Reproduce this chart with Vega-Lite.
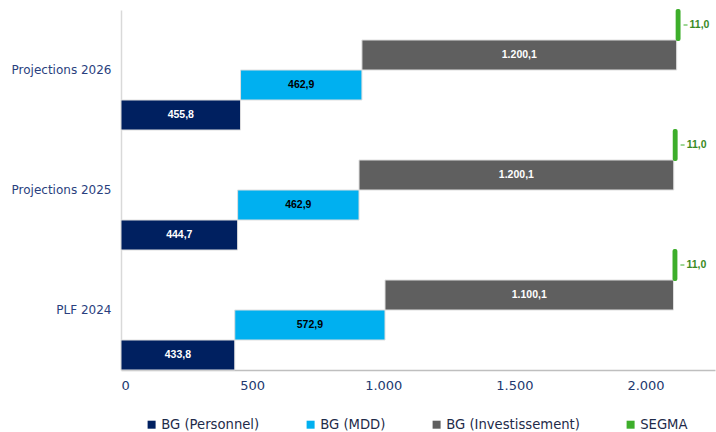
{
  "$schema": "https://vega.github.io/schema/vega-lite/v6.json",
  "autosize": {"type": "none"},
  "width": 594,
  "height": 360,
  "padding": {"left": 121, "top": 10, "right": 1, "bottom": 62},
  "background": "white",
  "config": {
    "view": {"stroke": null},
    "locale": {"number": {"decimal": ",", "thousands": ".", "grouping": [3], "currency": ["", " €"]}},
    "font": "DejaVu Sans"
  },
  "data": {
    "values": [
      {"cat": "Projections 2026", "serie": "BG (Personnel)", "value": 455.8, "start": 0, "end": 455.8},
      {"cat": "Projections 2026", "serie": "BG (MDD)", "value": 462.9, "start": 455.8, "end": 918.7},
      {"cat": "Projections 2026", "serie": "BG (Investissement)", "value": 1200.1, "start": 918.7, "end": 2118.8},
      {"cat": "Projections 2026", "serie": "SEGMA", "value": 11.0, "start": 2118.8, "end": 2129.8},
      {"cat": "Projections 2025", "serie": "BG (Personnel)", "value": 444.7, "start": 0, "end": 444.7},
      {"cat": "Projections 2025", "serie": "BG (MDD)", "value": 462.9, "start": 444.7, "end": 907.6},
      {"cat": "Projections 2025", "serie": "BG (Investissement)", "value": 1200.1, "start": 907.6, "end": 2107.7},
      {"cat": "Projections 2025", "serie": "SEGMA", "value": 11.0, "start": 2107.7, "end": 2118.7},
      {"cat": "PLF 2024", "serie": "BG (Personnel)", "value": 433.8, "start": 0, "end": 433.8},
      {"cat": "PLF 2024", "serie": "BG (MDD)", "value": 572.9, "start": 433.8, "end": 1006.7},
      {"cat": "PLF 2024", "serie": "BG (Investissement)", "value": 1100.1, "start": 1006.7, "end": 2106.8},
      {"cat": "PLF 2024", "serie": "SEGMA", "value": 11.0, "start": 2106.8, "end": 2117.8}
    ]
  },
  "encoding": {
    "y": {
      "field": "cat", "type": "nominal",
      "sort": ["Projections 2026", "Projections 2025", "PLF 2024"],
      "scale": {"paddingInner": 0, "paddingOuter": 0},
      "axis": {
        "title": null, "ticks": false, "domainColor": "#d9d9d9", "domainWidth": 1.5,
        "labelFont": "DejaVu Sans", "labelFontSize": 12, "labelColor": "#2A3F7E", "labelPadding": 10
      }
    },
    "yOffset": {
      "field": "serie", "type": "nominal",
      "sort": ["SEGMA", "BG (Investissement)", "BG (MDD)", "BG (Personnel)"],
      "scale": {"paddingInner": 0, "paddingOuter": 0}
    }
  },
  "layer": [
    {
      "transform": [{"filter": "datum.serie !== 'SEGMA'"}],
      "mark": {"type": "bar", "stroke": "#dedede", "strokeWidth": 1},
      "encoding": {
        "x": {
          "field": "start", "type": "quantitative",
          "scale": {"domain": [0, 2265], "nice": false},
          "axis": {
            "title": null, "values": [0, 500, 1000, 1500, 2000], "format": ",d",
            "ticks": false, "grid": false, "domainColor": "#bfbfbf", "domainWidth": 1.5,
            "labelFont": "DejaVu Sans", "labelFontSize": 13, "labelColor": "#22396F", "labelPadding": 9
          }
        },
        "x2": {"field": "end"},
        "color": {
          "field": "serie", "type": "nominal",
          "scale": {
            "domain": ["BG (Personnel)", "BG (MDD)", "BG (Investissement)", "SEGMA"],
            "range": ["#002060", "#00B0F0", "#5F5F5F", "#3DAE2B"]
          },
          "legend": {
            "title": null, "orient": "none", "direction": "horizontal",
            "legendX": 24, "legendY": 408,
            "symbolType": "square", "symbolSize": 64, "symbolStrokeWidth": 0,
            "labelFont": "DejaVu Sans", "labelFontSize": 13.2, "labelColor": "#1E2B4A",
            "labelOffset": 3, "columnPadding": 44, "padding": 0
          }
        }
      }
    },
    {
      "transform": [{"filter": "datum.serie === 'SEGMA'"}],
      "mark": {"type": "bar", "stroke": "#3DAE2B", "strokeWidth": 2, "cornerRadius": 1},
      "encoding": {
        "x": {"field": "start", "type": "quantitative"},
        "x2": {"field": "end"},
        "color": {"field": "serie", "type": "nominal"}
      }
    },
    {
      "transform": [{"filter": "datum.serie === 'SEGMA'"}],
      "mark": {"type": "rule", "xOffset": 4, "x2Offset": 8, "stroke": "#3DAE2B", "strokeWidth": 1},
      "encoding": {
        "x": {"field": "end", "type": "quantitative"},
        "x2": {"field": "end"}
      }
    },
    {
      "transform": [{"filter": "datum.serie === 'SEGMA'"}],
      "mark": {"type": "text", "align": "left", "baseline": "middle", "dx": 10, "font": "Liberation Sans", "fontWeight": "bold", "fontSize": 10.5, "color": "#3A8A25"},
      "encoding": {
        "x": {"field": "end", "type": "quantitative"},
        "text": {"field": "value", "type": "quantitative", "format": ",.1f"}
      }
    },
    {
      "transform": [
        {"filter": "datum.serie !== 'SEGMA'"},
        {"fold": ["start", "end"], "as": ["edge", "pos"]}
      ],
      "mark": {"type": "text", "align": "center", "baseline": "middle", "font": "Liberation Sans", "fontWeight": "bold", "fontSize": 10.5},
      "encoding": {
        "x": {"aggregate": "mean", "field": "pos", "type": "quantitative"},
        "text": {"field": "value", "type": "quantitative", "format": ",.1f"},
        "color": {
          "condition": {"test": "datum.serie === 'BG (MDD)'", "value": "#000000"},
          "value": "#FFFFFF"
        }
      }
    }
  ]
}
